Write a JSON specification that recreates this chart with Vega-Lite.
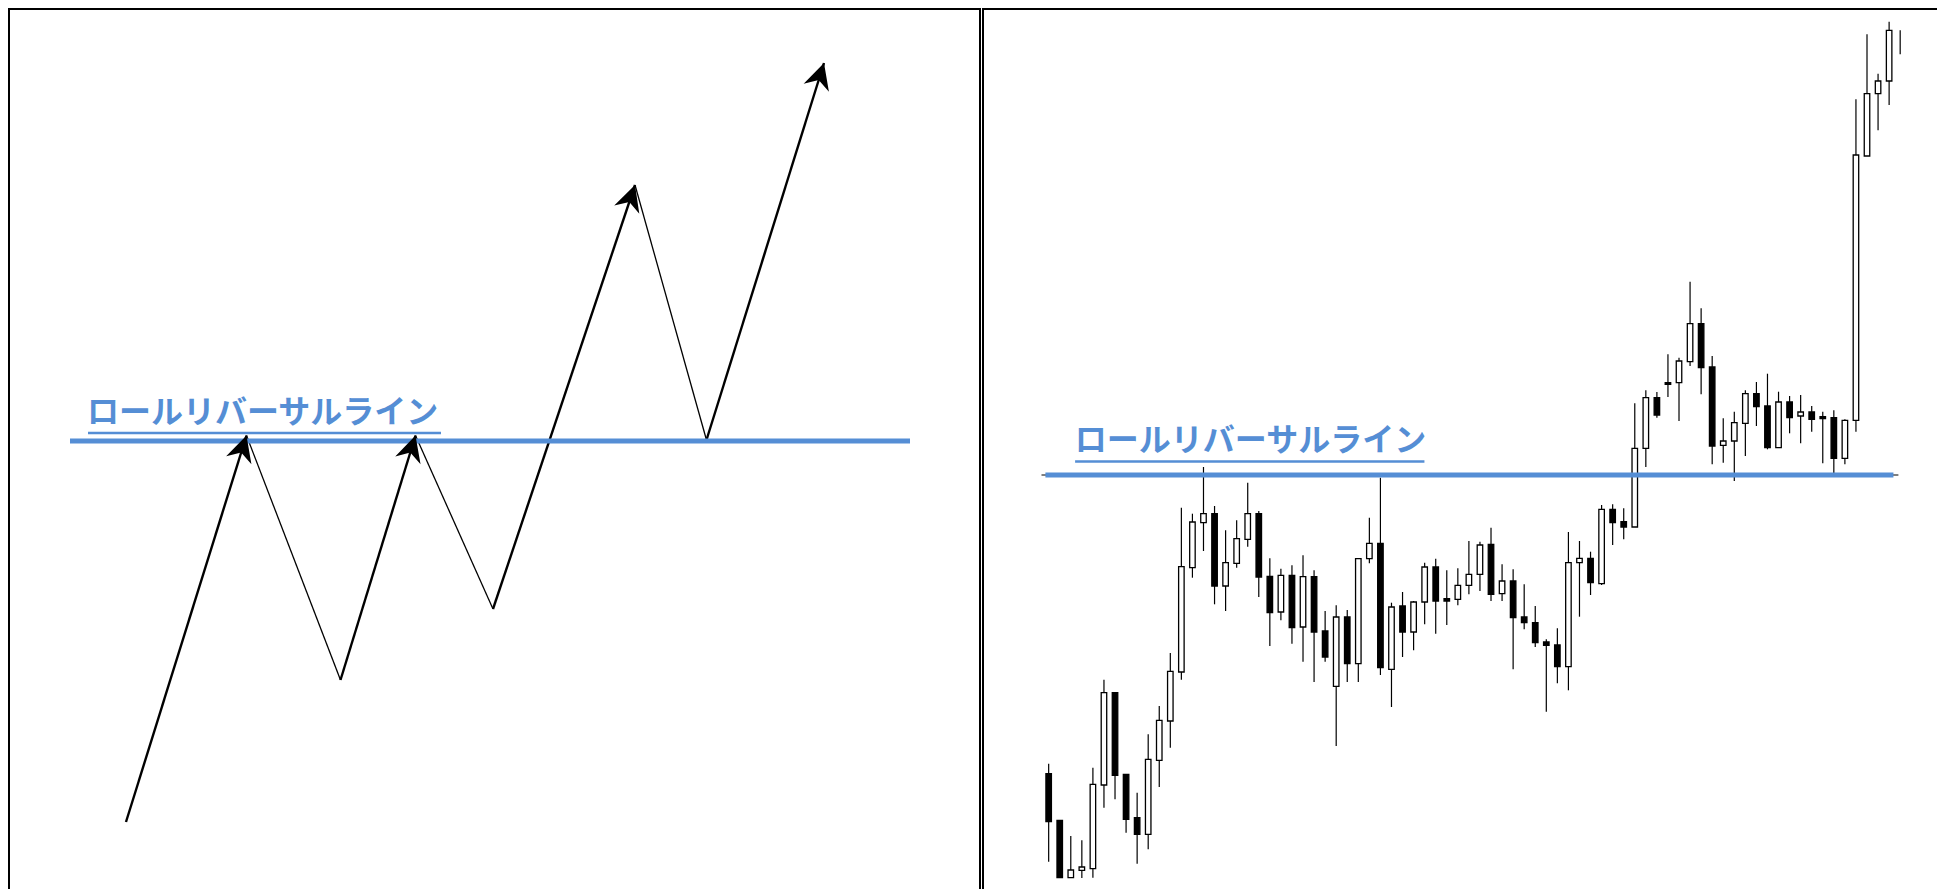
{
  "$schema": "https://vega.github.io/schema/vega-lite/v6.json",
  "background": "white",
  "padding": {"left": 8, "top": 8, "right": 0, "bottom": 0},
  "spacing": 1,
  "config": {"view": {"stroke": "black", "strokeWidth": 2}},
  "hconcat": [
    {
      "width": 971,
      "height": 900,
      "layer": [
        {
          "data": {"values": [
            {"x": 117, "y": 87, "x2": 237.5, "y2": 473.5, "move": "up"},
            {"x": 237.5, "y": 473.5, "x2": 331.5, "y2": 229, "move": "down"},
            {"x": 331.5, "y": 229, "x2": 406.5, "y2": 473.5, "move": "up"},
            {"x": 406.5, "y": 473.5, "x2": 484, "y2": 300, "move": "down"},
            {"x": 484, "y": 300, "x2": 626, "y2": 724, "move": "up"},
            {"x": 626, "y": 724, "x2": 697.5, "y2": 469, "move": "down"},
            {"x": 697.5, "y": 469, "x2": 815, "y2": 846, "move": "up"}
          ]},
          "mark": {"type": "rule", "color": "black", "strokeCap": "butt"},
          "encoding": {
            "x": {"field": "x", "type": "quantitative", "scale": {"domain": [0, 971], "nice": false, "zero": false}, "axis": null},
            "y": {"field": "y", "type": "quantitative", "scale": {"domain": [0, 900], "nice": false, "zero": false}, "axis": null},
            "x2": {"field": "x2"},
            "y2": {"field": "y2"},
            "strokeWidth": {"field": "move", "type": "nominal", "scale": {"domain": ["up", "down"], "range": [2.4, 1.3]}, "legend": null}
          }
        },
        {
          "data": {"values": [
            {"x": 61, "x2": 901, "level": 468}
          ]},
          "mark": {"type": "rule", "color": "#558ED5", "strokeWidth": 5},
          "encoding": {
            "x": {"field": "x", "type": "quantitative", "scale": {"domain": [0, 971], "nice": false, "zero": false}, "axis": null},
            "x2": {"field": "x2"},
            "y": {"field": "level", "type": "quantitative", "scale": {"domain": [0, 900], "nice": false, "zero": false}, "axis": null}
          }
        },
        {
          "data": {"values": [
            {"x": 79, "x2": 432, "level": 476}
          ]},
          "mark": {"type": "rule", "color": "#558ED5", "strokeWidth": 2.3},
          "encoding": {
            "x": {"field": "x", "type": "quantitative", "scale": {"domain": [0, 971], "nice": false, "zero": false}, "axis": null},
            "x2": {"field": "x2"},
            "y": {"field": "level", "type": "quantitative", "scale": {"domain": [0, 900], "nice": false, "zero": false}, "axis": null}
          }
        },
        {
          "data": {"values": [
            {"x": 78, "level": 496, "label": "ロールリバーサルライン"}
          ]},
          "mark": {"type": "text", "align": "left", "baseline": "middle", "font": "Noto Sans CJK JP", "fontWeight": "bold", "fontSize": 32, "color": "#558ED5"},
          "encoding": {
            "x": {"field": "x", "type": "quantitative", "scale": {"domain": [0, 971], "nice": false, "zero": false}, "axis": null},
            "y": {"field": "level", "type": "quantitative", "scale": {"domain": [0, 900], "nice": false, "zero": false}, "axis": null},
            "text": {"field": "label"}
          }
        },
        {
          "data": {"values": [
            {"x": 117, "y": 87, "x2": 237.5, "y2": 473.5, "move": "up"},
            {"x": 331.5, "y": 229, "x2": 406.5, "y2": 473.5, "move": "up"},
            {"x": 484, "y": 300, "x2": 626, "y2": 724, "move": "up"},
            {"x": 697.5, "y": 469, "x2": 815, "y2": 846, "move": "up"}
          ]},
          "transform": [
            {"calculate": "atan2(datum.x2 - datum.x, datum.y2 - datum.y) * 180 / PI", "as": "heading"}
          ],
          "mark": {"type": "point", "shape": "M0,0L1,1.96L0,1.35L-1,1.96Z", "size": 700, "filled": true, "color": "black", "opacity": 1, "strokeWidth": 0},
          "encoding": {
            "x": {"field": "x2", "type": "quantitative", "scale": {"domain": [0, 971], "nice": false, "zero": false}, "axis": null},
            "y": {"field": "y2", "type": "quantitative", "scale": {"domain": [0, 900], "nice": false, "zero": false}, "axis": null},
            "angle": {"field": "heading", "type": "quantitative", "scale": null}
          }
        }
      ]
    },
    {
      "width": 960,
      "height": 900,
      "layer": [
        {
          "data": {"name": "candles"},
          "mark": {"type": "rule", "color": "black", "strokeWidth": 1.2},
          "encoding": {
            "x": {"field": "i", "type": "quantitative", "scale": {"domain": [-4.486, 81.42], "nice": false, "zero": false}, "axis": null},
            "y": {"field": "l", "type": "quantitative", "scale": {"domain": [0, 900], "nice": false, "zero": false}, "axis": null},
            "y2": {"field": "h"}
          }
        },
        {
          "data": {"name": "candles"},
          "mark": {"type": "bar", "width": 5.5, "stroke": "black", "strokeWidth": 1.3},
          "encoding": {
            "x": {"field": "i", "type": "quantitative", "scale": {"domain": [-4.486, 81.42], "nice": false, "zero": false}, "axis": null},
            "y": {"field": "o", "type": "quantitative", "scale": {"domain": [0, 900], "nice": false, "zero": false}, "axis": null},
            "y2": {"field": "c"},
            "fill": {"condition": {"test": "datum.c >= datum.o", "value": "white"}, "value": "black"}
          }
        },
        {
          "data": {"values": [
            {"i": 0.35, "i2": 77.84, "level": 434}
          ]},
          "mark": {"type": "rule", "color": "black", "strokeWidth": 1},
          "encoding": {
            "x": {"field": "i", "type": "quantitative", "scale": {"domain": [-4.486, 81.42], "nice": false, "zero": false}, "axis": null},
            "x2": {"field": "i2"},
            "y": {"field": "level", "type": "quantitative", "scale": {"domain": [0, 900], "nice": false, "zero": false}, "axis": null}
          }
        },
        {
          "data": {"values": [
            {"i": 0.705, "i2": 77.39, "level": 434}
          ]},
          "mark": {"type": "rule", "color": "#558ED5", "strokeWidth": 5},
          "encoding": {
            "x": {"field": "i", "type": "quantitative", "scale": {"domain": [-4.486, 81.42], "nice": false, "zero": false}, "axis": null},
            "x2": {"field": "i2"},
            "y": {"field": "level", "type": "quantitative", "scale": {"domain": [0, 900], "nice": false, "zero": false}, "axis": null}
          }
        },
        {
          "data": {"values": [
            {"i": 3.39, "i2": 34.98, "level": 447.5}
          ]},
          "mark": {"type": "rule", "color": "#558ED5", "strokeWidth": 2.3},
          "encoding": {
            "x": {"field": "i", "type": "quantitative", "scale": {"domain": [-4.486, 81.42], "nice": false, "zero": false}, "axis": null},
            "x2": {"field": "i2"},
            "y": {"field": "level", "type": "quantitative", "scale": {"domain": [0, 900], "nice": false, "zero": false}, "axis": null}
          }
        },
        {
          "data": {"values": [
            {"i": 3.36, "level": 468.5, "label": "ロールリバーサルライン"}
          ]},
          "mark": {"type": "text", "align": "left", "baseline": "middle", "font": "Noto Sans CJK JP", "fontWeight": "bold", "fontSize": 32, "color": "#558ED5"},
          "encoding": {
            "x": {"field": "i", "type": "quantitative", "scale": {"domain": [-4.486, 81.42], "nice": false, "zero": false}, "axis": null},
            "y": {"field": "level", "type": "quantitative", "scale": {"domain": [0, 900], "nice": false, "zero": false}, "axis": null},
            "text": {"field": "label"}
          }
        }
      ]
    }
  ],
  "datasets": {
    "candles": [
      {"i": 1, "o": 135.3, "h": 145.3, "l": 47.3, "c": 87.3},
      {"i": 2, "o": 88.7, "h": 88.7, "l": 31, "c": 31.3},
      {"i": 3, "o": 31.3, "h": 73, "l": 31, "c": 39},
      {"i": 4, "o": 38.7, "h": 68.7, "l": 31, "c": 42},
      {"i": 5, "o": 40.3, "h": 141.3, "l": 31.3, "c": 124.7},
      {"i": 6, "o": 124, "h": 229.3, "l": 101.3, "c": 216.3},
      {"i": 7, "o": 216.3, "h": 216.3, "l": 109.7, "c": 133.7},
      {"i": 8, "o": 134.7, "h": 134.7, "l": 76.3, "c": 89.7},
      {"i": 9, "o": 91.3, "h": 116.3, "l": 45.3, "c": 74.7},
      {"i": 10, "o": 74.7, "h": 174.7, "l": 59.7, "c": 149.7},
      {"i": 11, "o": 148.7, "h": 203, "l": 122, "c": 188.7},
      {"i": 12, "o": 188, "h": 256, "l": 161.3, "c": 237.7},
      {"i": 13, "o": 237, "h": 401.3, "l": 229.3, "c": 342.3},
      {"i": 14, "o": 341.3, "h": 395.3, "l": 331.3, "c": 387},
      {"i": 15, "o": 386.3, "h": 442, "l": 358, "c": 395.3},
      {"i": 16, "o": 395.3, "h": 403, "l": 304.7, "c": 323},
      {"i": 17, "o": 323, "h": 378.7, "l": 298, "c": 346.3},
      {"i": 18, "o": 345.7, "h": 388.7, "l": 341.3, "c": 370.3},
      {"i": 19, "o": 369.7, "h": 426.3, "l": 362.3, "c": 395.3},
      {"i": 20, "o": 395.3, "h": 398, "l": 312, "c": 332},
      {"i": 21, "o": 332.7, "h": 350.7, "l": 263, "c": 296.3},
      {"i": 22, "o": 297, "h": 340.3, "l": 288.7, "c": 333.7},
      {"i": 23, "o": 333.7, "h": 343.7, "l": 265.3, "c": 281.3},
      {"i": 24, "o": 282, "h": 353.7, "l": 247.3, "c": 332.3},
      {"i": 25, "o": 332.3, "h": 338.7, "l": 227, "c": 277},
      {"i": 26, "o": 278, "h": 298, "l": 247.3, "c": 252},
      {"i": 27, "o": 222.7, "h": 303.7, "l": 163, "c": 292},
      {"i": 28, "o": 292, "h": 299, "l": 227, "c": 245.3},
      {"i": 29, "o": 245.3, "h": 350.3, "l": 227, "c": 350.3},
      {"i": 30, "o": 350.3, "h": 391.3, "l": 345.7, "c": 365.7},
      {"i": 31, "o": 365.7, "h": 431.3, "l": 234, "c": 241.3},
      {"i": 32, "o": 239.7, "h": 306.3, "l": 202, "c": 302},
      {"i": 33, "o": 303, "h": 317, "l": 252, "c": 277},
      {"i": 34, "o": 277, "h": 308, "l": 258.7, "c": 307},
      {"i": 35, "o": 307, "h": 346.3, "l": 284.7, "c": 342},
      {"i": 36, "o": 342, "h": 350.3, "l": 275.3, "c": 308},
      {"i": 37, "o": 310.3, "h": 338.7, "l": 284, "c": 308},
      {"i": 38, "o": 309.7, "h": 340.7, "l": 303.7, "c": 323.7},
      {"i": 39, "o": 323.7, "h": 368, "l": 314.7, "c": 334.7},
      {"i": 40, "o": 334.7, "h": 367.3, "l": 318, "c": 364},
      {"i": 41, "o": 364.7, "h": 381.3, "l": 308, "c": 314.7},
      {"i": 42, "o": 315.3, "h": 344.7, "l": 308, "c": 328},
      {"i": 43, "o": 328, "h": 339.7, "l": 239.7, "c": 291.3},
      {"i": 44, "o": 292, "h": 324.7, "l": 279.7, "c": 286.3},
      {"i": 45, "o": 286.3, "h": 303, "l": 262, "c": 266.3},
      {"i": 46, "o": 267, "h": 269.7, "l": 197.3, "c": 263.7},
      {"i": 47, "o": 264, "h": 280.7, "l": 225.7, "c": 242.3},
      {"i": 48, "o": 242.3, "h": 377, "l": 218.7, "c": 346.3},
      {"i": 49, "o": 346.3, "h": 368, "l": 292.3, "c": 350.7},
      {"i": 50, "o": 350.7, "h": 357.3, "l": 314, "c": 326.3},
      {"i": 51, "o": 325.3, "h": 404, "l": 324, "c": 399.7},
      {"i": 52, "o": 399.7, "h": 404.7, "l": 364, "c": 386.3},
      {"i": 53, "o": 387.3, "h": 400.7, "l": 369.7, "c": 382},
      {"i": 54, "o": 382, "h": 505.7, "l": 382, "c": 460.7},
      {"i": 55, "o": 460.7, "h": 518.7, "l": 442, "c": 511.3},
      {"i": 56, "o": 511.3, "h": 517, "l": 491.3, "c": 494},
      {"i": 57, "o": 526.3, "h": 554.7, "l": 512, "c": 524.7},
      {"i": 58, "o": 526.3, "h": 551.3, "l": 488, "c": 548},
      {"i": 59, "o": 547.3, "h": 627.3, "l": 543, "c": 585.3},
      {"i": 60, "o": 585.3, "h": 600.7, "l": 514.7, "c": 541.3},
      {"i": 61, "o": 542, "h": 553, "l": 444.7, "c": 463},
      {"i": 62, "o": 463.7, "h": 490.7, "l": 446.3, "c": 468},
      {"i": 63, "o": 468, "h": 497.3, "l": 428, "c": 486.3},
      {"i": 64, "o": 485.7, "h": 518.7, "l": 453, "c": 515.3},
      {"i": 65, "o": 515.3, "h": 527, "l": 483, "c": 502.3},
      {"i": 66, "o": 503, "h": 535.3, "l": 459.7, "c": 461.3},
      {"i": 67, "o": 461.3, "h": 517.3, "l": 461.3, "c": 507},
      {"i": 68, "o": 507, "h": 513, "l": 475.7, "c": 491.3},
      {"i": 69, "o": 493, "h": 514, "l": 465.7, "c": 497},
      {"i": 70, "o": 497, "h": 503, "l": 477.3, "c": 489.7},
      {"i": 71, "o": 492.3, "h": 497.3, "l": 445.7, "c": 490.3},
      {"i": 72, "o": 491.3, "h": 498.7, "l": 435.3, "c": 450.7},
      {"i": 73, "o": 450.7, "h": 489.7, "l": 444.7, "c": 488.7},
      {"i": 74, "o": 488.7, "h": 809.7, "l": 477.3, "c": 754},
      {"i": 75, "o": 753, "h": 874.7, "l": 753, "c": 815.3},
      {"i": 76, "o": 815.3, "h": 835.3, "l": 778.7, "c": 828},
      {"i": 77, "o": 828, "h": 887.3, "l": 804, "c": 878.7},
      {"i": 78, "o": null, "h": 878.7, "l": 854.7, "c": null}
    ]
  }
}
